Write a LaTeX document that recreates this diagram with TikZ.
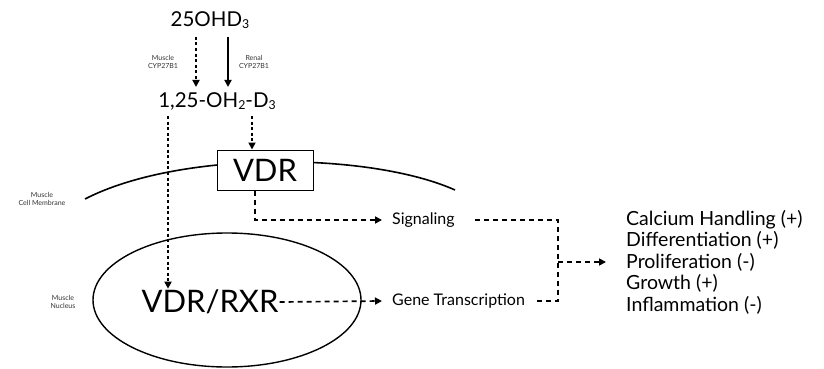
\documentclass[tikz,border=0pt]{standalone}
\usepackage{fontspec}
\setmainfont{Lato}
\usetikzlibrary{arrows.meta,calc,shapes.geometric}
\newcommand\lowsub[1]{\raisebox{-0.1em}{\scalebox{0.6}{#1}}}
\begin{document}
\begin{tikzpicture}[x=1pt,y=-1pt,
  tip/.style={-{Triangle[length=7pt,width=7pt]}},
  dotv/.style={tip,line width=1.7pt,dash pattern=on 3pt off 2.6pt},
  dashh/.style={line width=1.7pt,dash pattern=on 5pt off 4pt},
  solidarr/.style={tip,line width=1.7pt},
  small/.style={font=\fontsize{7}{8}\selectfont,align=center,text=black!80,inner sep=0pt},
  mid/.style={font=\fontsize{16}{18}\selectfont,inner sep=0pt},
  big/.style={font=\fontsize{20.5}{23}\selectfont,inner sep=0pt}]
\useasboundingbox (0,0) rectangle (824,369);

% top compounds
\node[big] (oh) at (210,20) {25OHD\lowsub{3}};
\node[big] (d3) at (217,101) {1,25-OH\lowsub{2}-D\lowsub{3}};
\coordinate (xl) at (196,0);
\coordinate (xr) at (228,0);
\draw[dotv] ($(oh.south -| xl)+(0,8)$) -- ($(d3.north -| xl)+(0,-5)$);
\draw[solidarr] ($(oh.south -| xr)+(0,8)$) -- ($(d3.north -| xr)+(0,-5)$);
\node[small] (mcyp) at (163,62) {Muscle\\CYP27B1};
\node[small] (rcyp) at (254,62) {Renal\\CYP27B1};

% membrane
\draw[line width=1.6pt] (85,199) .. controls (180,150) and (370,152) .. (455,190);
\node[small] (mem) at (42,199) {Muscle\\Cell Membrane};
\node[draw,line width=1pt,fill=white,minimum width=96pt,minimum height=40pt,
  font=\fontsize{31}{31}\selectfont] (vdr) at (265,170) {VDR};

% nucleus
\node[draw,ellipse,line width=1.4pt,minimum width=268pt,minimum height=134pt,inner sep=0pt] (nuc) at (227,300) {};
\node[small] (nl) at (63,302) {Muscle\\Nucleus};
\node[font=\fontsize{31}{31}\selectfont,inner sep=1pt] (rxr) at (210,302) {VDR/RXR};

% arrows from 1,25-OH2-D3
\coordinate (xa) at (168,0);
\coordinate (xb) at (252,0);
\draw[dotv] ($(d3.south -| xa)+(0,6)$) -- (rxr.north -| xa);
\draw[dotv] ($(d3.south -| xb)+(0,6)$) -- (vdr.north -| xb);

% outputs
\node[mid,anchor=west] (sig) at (392,220) {Signaling};
\node[mid,anchor=west] (gene) at (392,301) {Gene Transcription};
\draw[dashh,tip] ($(vdr.south)+(-10,0)$) |- ($(sig.west)+(-10,0)$);
\draw[dashh,tip] (rxr.east) -- ($(gene.west)+(-10,0)$);

\coordinate (j) at (558,262);
\draw[dashh] ($(sig.east)+(20,0)$) -| (j) |- ($(gene.east)+(8,0)$);
\node[font=\fontsize{19.5}{21.5}\selectfont,align=left,anchor=west,inner sep=0pt] (res) at (626,262)
  {Calcium Handling (+)\\Differentiation (+)\\Proliferation (-)\\Growth (+)\\Inflammation (-)};
\draw[dashh,tip] (j) -- ($(res.west)+(-20,0)$);
\end{tikzpicture}
\end{document}
